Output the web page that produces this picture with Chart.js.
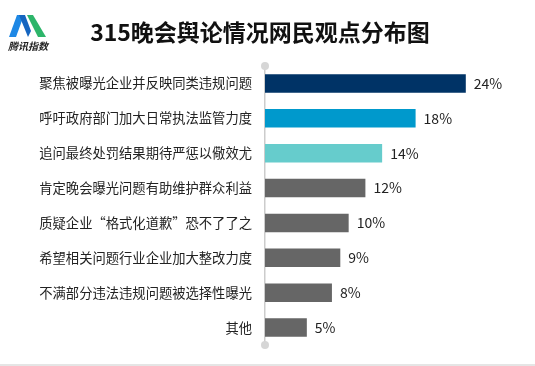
<!DOCTYPE html>
<html>
<head>
<meta charset="utf-8">
<script src="https://cdn.jsdelivr.net/npm/chart.js@4"></script>
<style>
  html, body { margin: 0; padding: 0; background: #fff; }
  #wrap { width: 535px; height: 366px; position: relative; }
</style>
</head>
<body>
<div id="wrap"><canvas id="chart" width="535" height="366"></canvas></div>
<script>
// chart data
const categories = [
    '聚焦被曝光企业并反映同类违规问题',
    '呼吁政府部门加大日常执法监管力度',
    '追问最终处罚结果期待严惩以儆效尤',
    '肯定晚会曝光问题有助维护群众利益',
    '质疑企业“格式化道歉”恐不了了之',
    '希望相关问题行业企业加大整改力度',
    '不满部分违法违规问题被选择性曝光',
    '其他'
];
const shares = [24, 18, 14, 12, 10, 9, 8, 5];
const barColors = ['#003366', '#0099cc', '#66cccc', '#666666', '#666666', '#666666', '#666666', '#666666'];
const titleText = '315晚会舆论情况网民观点分布图';

const FONT = '"Noto Sans CJK SC", "Noto Sans", sans-serif';

// title, logo, axis dots and bottom rule
const decorPlugin = {
    id: 'decor',
    beforeDraw(chart) {
        const ctx = chart.ctx;
        ctx.save();
        // logo
        ctx.fillStyle = '#1e88e5';
        ctx.beginPath();
        ctx.moveTo(9, 37); ctx.lineTo(17, 15); ctx.lineTo(24, 15); ctx.lineTo(16, 37);
        ctx.closePath(); ctx.fill();
        ctx.fillStyle = '#1565c0';
        ctx.beginPath();
        ctx.moveTo(19, 15); ctx.lineTo(25, 15); ctx.lineTo(31, 31); ctx.lineTo(28, 37);
        ctx.closePath(); ctx.fill();
        ctx.fillStyle = '#2db56a';
        ctx.beginPath();
        ctx.moveTo(27, 15); ctx.lineTo(33, 15); ctx.lineTo(46, 37); ctx.lineTo(38, 37);
        ctx.closePath(); ctx.fill();
        ctx.fillStyle = '#222';
        ctx.font = 'italic bold 10px ' + FONT;
        ctx.textAlign = 'left';
        ctx.textBaseline = 'middle';
        ctx.fillText('腾讯指数', 8, 46);

        // title
        ctx.font = 'bold 23px ' + FONT;
        ctx.textAlign = 'center';
        ctx.fillStyle = '#111';
        ctx.fillText(titleText, 260, 32);

        // bottom rule
        ctx.strokeStyle = '#dddddd';
        ctx.lineWidth = 1.5;
        ctx.beginPath();
        ctx.moveTo(0, 365); ctx.lineTo(535, 365);
        ctx.stroke();
        ctx.restore();
    },
    afterDraw(chart) {
        const ctx = chart.ctx;
        const area = chart.chartArea;
        ctx.save();
        ctx.fillStyle = '#d6d6d6';
        [area.top, area.bottom].forEach(y => {
            ctx.beginPath();
            ctx.arc(area.left, y, 4, 0, Math.PI * 2);
            ctx.fill();
        });
        ctx.restore();
    }
};

// percentage labels at bar ends
const valueLabelPlugin = {
    id: 'valueLabels',
    afterDatasetsDraw(chart) {
        const ctx = chart.ctx;
        const meta = chart.getDatasetMeta(0);
        ctx.save();
        ctx.font = '14px ' + FONT;
        ctx.fillStyle = '#222';
        ctx.textAlign = 'left';
        ctx.textBaseline = 'middle';
        meta.data.forEach((bar, i) => {
            ctx.fillText(shares[i] + '%', bar.x + 8, bar.y);
        });
        ctx.restore();
    }
};

new Chart(document.getElementById('chart'), {
    type: 'bar',
    data: {
        labels: categories,
        datasets: [{
            data: shares,
            backgroundColor: barColors,
            borderWidth: 0,
            categoryPercentage: 1,
            barPercentage: 0.53
        }]
    },
    options: {
        indexAxis: 'y',
        responsive: false,
        animation: false,
        layout: {
            padding: { top: 66, bottom: 16, left: 0, right: 19 }
        },
        plugins: {
            legend: { display: false },
            tooltip: { enabled: false }
        },
        scales: {
            x: {
                display: false,
                min: 0,
                max: 30
            },
            y: {
                afterFit(scale) { scale.width = 265; },
                grid: { display: false, drawTicks: false },
                border: { display: true, color: '#cccccc', width: 1.5 },
                ticks: {
                    padding: 13,
                    color: '#222',
                    font: { size: 13.3, family: FONT }
                }
            }
        }
    },
    plugins: [decorPlugin, valueLabelPlugin]
});
</script>
</body>
</html>
